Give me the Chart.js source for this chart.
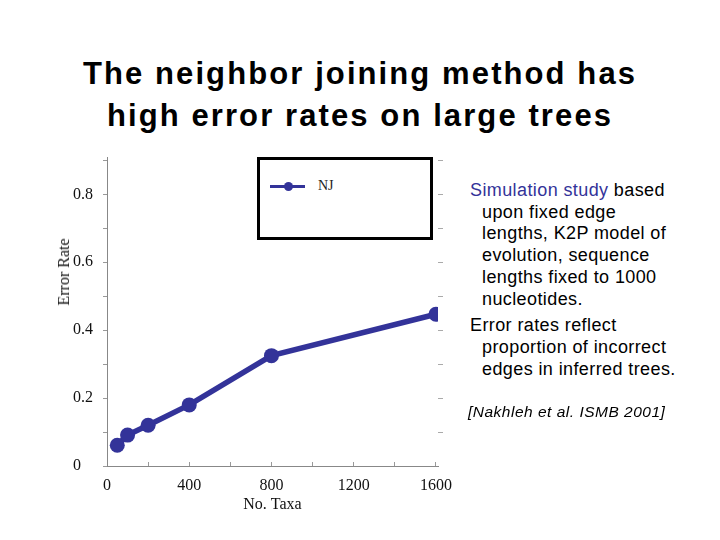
<!DOCTYPE html>
<html lang="en">
<head>
    <meta charset="UTF-8">
    <title>The neighbor joining method has high error rates on large trees</title>
    <script src="https://cdn.jsdelivr.net/npm/chart.js"></script>
    <style>
        body {
            margin: 0;
            width: 720px;
            height: 540px;
            background: #fff;
            position: relative;
            overflow: hidden;
            font-family: 'Liberation Sans', Arial, sans-serif;
        }

        h1 {
            position: absolute;
            top: 53px;
            left: 0;
            width: 720px;
            margin: 0;
            text-align: center;
            font-size: 31px;
            line-height: 42px;
            font-weight: 700;
            letter-spacing: 2.1px;
            color: #000;
        }

        .chart-box {
            position: absolute;
            left: 0;
            top: 140px;
            width: 470px;
            height: 390px;
        }

        /* y axis title sits outside the canvas so the tick labels can be left aligned */
        .y-title {
            position: absolute;
            left: 64px;
            top: 272px;
            transform: translate(-50%, -50%) rotate(-90deg);
            font-family: 'Liberation Serif', 'Times New Roman', serif;
            font-size: 16px;
            color: #111;
            white-space: nowrap;
        }

        .legend {
            position: absolute;
            left: 257px;
            top: 157px;
            width: 176px;
            height: 83px;
            box-sizing: border-box;
            border: 3px solid #000;
            background: #fff;
        }

        .legend .item {
            position: absolute;
            left: 10px;
            top: 20px;
            height: 14px;
            width: 150px;
        }

        .legend .line {
            position: absolute;
            left: 0;
            top: 5px;
            width: 35px;
            height: 3px;
        }

        .legend .dot {
            position: absolute;
            left: 14px;
            top: 2px;
            width: 9px;
            height: 9px;
            border-radius: 50%;
        }

        .legend .label {
            position: absolute;
            left: 48px;
            top: -2px;
            font-family: 'Liberation Serif', 'Times New Roman', serif;
            font-size: 14px;
            color: #222;
        }

        .notes {
            position: absolute;
            left: 470px;
            top: 180px;
            width: 250px;
            font-size: 18px;
            line-height: 21.7px;
            letter-spacing: 0.4px;
            color: #000;
        }

        .notes p {
            margin: 0 0 5px 0;
            padding-left: 12px;
            text-indent: -12px;
        }

        .notes .hl {
            color: #333399;
        }

        .cite {
            position: absolute;
            left: 468px;
            top: 403px;
            font-size: 15.5px;
            line-height: 18px;
            font-style: italic;
            letter-spacing: 0.5px;
            color: #000;
        }
    </style>
</head>
<body>
    <h1>The neighbor joining method has<br>high error rates on large trees</h1>

    <div class="chart-box">
        <canvas id="njChart" width="470" height="390"></canvas>
    </div>
    <div class="y-title">Error Rate</div>
    <div class="legend" id="legend"></div>

    <div class="notes">
        <p><span class="hl">Simulation study</span> based<br>upon fixed edge<br>lengths, K2P model of<br>evolution, sequence<br>lengths fixed to 1000<br>nucleotides.</p>
        <p>Error rates reflect<br>proportion of incorrect<br>edges in inferred trees.</p>
    </div>
    <div class="cite">[Nakhleh et al. ISMB 2001]</div>

    <script>
        // Data
        const taxa = [50, 100, 200, 400, 800, 1600];
        const njError = [0.061, 0.091, 0.12, 0.18, 0.325, 0.447];
        const xTickLabels = ['0', '400', '800', '1200', '1600'];
        const yTickLabels = ['0', '0.2', '0.4', '0.6', '0.8'];

        const njColor = '#333399';
        const serif = "'Liberation Serif', 'Times New Roman', serif";

        // ticks every 200 on x and every 0.1 on y, labels only where the figure has them
        const xTicks = [];
        for (let v = 0; v <= 1600; v += 200) xTicks.push({ value: v });
        const yTicks = [];
        for (let i = 0; i <= 9; i++) yTicks.push({ value: i / 10 });

        const yLabel = (value) => {
            const s = String(Math.round(value * 10) / 10);
            return yTickLabels.includes(s) ? s : '';
        };

        const chart = new Chart(document.getElementById('njChart').getContext('2d'), {
            type: 'line',
            data: {
                datasets: [{
                    label: 'NJ',
                    data: taxa.map((t, i) => ({ x: t, y: njError[i] })),
                    borderColor: njColor,
                    backgroundColor: njColor,
                    borderWidth: 5.5,
                    pointRadius: 7.5,
                    pointBackgroundColor: njColor,
                    pointBorderColor: njColor,
                    pointBorderWidth: 0,
                    tension: 0,
                    fill: false
                }]
            },
            options: {
                responsive: false,
                animation: false,
                layout: { padding: { left: 73, top: 17, right: 0, bottom: 0 } },
                plugins: {
                    legend: { display: false },
                    tooltip: { enabled: false }
                },
                scales: {
                    x: {
                        type: 'linear',
                        min: 0,
                        max: 1610,
                        afterBuildTicks: (scale) => { scale.ticks = xTicks.map(t => ({ ...t })); },
                        afterFit: (scale) => { scale.height = 64; },
                        ticks: {
                            padding: 14,
                            color: '#111',
                            font: { family: serif, size: 16 },
                            callback: (value) => xTickLabels.includes(String(value)) ? String(value) : ''
                        },
                        grid: { drawOnChartArea: false, tickLength: -4, color: '#999' },
                        border: { color: '#888', width: 1 },
                        title: {
                            display: true,
                            text: 'No. Taxa',
                            color: '#111',
                            font: { family: serif, size: 16 },
                            padding: { top: 0, bottom: 16 }
                        }
                    },
                    y: {
                        min: 0,
                        max: 0.91,
                        afterBuildTicks: (scale) => { scale.ticks = yTicks.map(t => ({ ...t })); },
                        afterFit: (scale) => { scale.width = 34; },
                        ticks: {
                            crossAlign: 'far',
                            color: '#111',
                            font: { family: serif, size: 16 },
                            callback: yLabel
                        },
                        grid: { drawOnChartArea: false, tickLength: 4, color: '#999' },
                        border: { color: '#888', width: 1 }
                    },
                    y2: {
                        position: 'right',
                        min: 0,
                        max: 0.91,
                        afterBuildTicks: (scale) => { scale.ticks = yTicks.slice(1).map(t => ({ ...t })); },
                        afterFit: (scale) => { scale.width = 32; },
                        ticks: { display: false },
                        grid: { drawOnChartArea: false, tickLength: 5, color: '#aaa' },
                        border: { display: false }
                    }
                }
            }
        });

        // legend box drawn in html, built from the dataset
        const legend = document.getElementById('legend');
        chart.data.datasets.forEach((ds) => {
            const item = document.createElement('div');
            item.className = 'item';
            item.innerHTML =
                '<span class="line" style="background:' + ds.borderColor + '"></span>' +
                '<span class="dot" style="background:' + ds.borderColor + '"></span>' +
                '<span class="label">' + ds.label + '</span>';
            legend.appendChild(item);
        });
    </script>
</body>
</html>
